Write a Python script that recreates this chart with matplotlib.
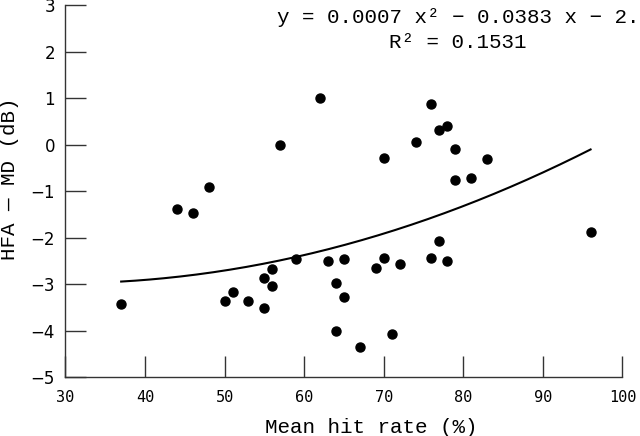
import numpy as np
from matplotlib import pyplot as plt

hit_rate = np.array([37, 44, 46, 48, 50, 51, 53, 55, 55, 56, 56, 59, 57, 62,
                     76, 77, 78, 74, 79, 70, 79, 81, 83, 96, 77, 63, 65, 70,
                     69, 72, 76, 78, 64, 65, 64, 71, 67])
hfa_md = np.array([-3.43, -1.39, -1.48, -0.91, -3.37, -3.18, -3.37, -3.51, -2.87,
                   -2.67, -3.05, -2.46, 0.0, 1.0, 0.87, 0.31, 0.39, 0.05, -0.09,
                   -0.28, -0.76, -0.72, -0.32, -1.89, -2.08, -2.50, -2.46, -2.45,
                   -2.66, -2.56, -2.45, -2.51, -2.97, -3.28, -4.0, -4.08, -4.36])

# trend line (a, b, c)
trend_coef = [0.00065, -0.0383, -2.42]

x_ticks = [30, 40, 50, 60, 70, 80, 90, 100]
y_ticks = [-5, -4, -3, -2, -1, 0, 1, 2, 3]
eq_text = 'y = 0.0007 x\u00b2 \u2212 0.0383 x \u2212 2.4'
r2_text = 'R\u00b2 = 0.1531'

mono = 'Liberation Mono'
fig = plt.figure(figsize=(6.4, 4.36), dpi=100)
ax = fig.add_axes([0.1023, 0.1353, 0.8702, 0.8532])

ax.plot(hit_rate, hfa_md, 'o', color='black', markersize=6.5, zorder=3)

xs = np.linspace(hit_rate.min(), hit_rate.max(), 200)
ax.plot(xs, np.polyval(trend_coef, xs), color='black', linewidth=1.5)

ax.set_xlim(30, 100)
ax.set_ylim(-5, 3)
ax.set_xticks(x_ticks)
ax.set_yticks(y_ticks)
ax.spines['top'].set_visible(False)
ax.spines['right'].set_visible(False)
for s in ['left', 'bottom']:
    ax.spines[s].set_color('#333333')
    ax.spines[s].set_linewidth(1.0)
ax.tick_params(direction='in', length=15, width=1.0, color='#333333')
ax.tick_params(axis='y', pad=7.5, labelsize=12)
ax.tick_params(axis='x', pad=9, labelsize=11)
for lab in ax.get_xticklabels():
    lab.set_family('DejaVu Sans Mono')

ax.set_xlabel('Mean hit rate (%)', family=mono, fontsize=15)
ax.xaxis.set_label_coords(0.549, -0.1505)
ax.xaxis.label.set_va('baseline')
ax.set_ylabel('HFA \u2014 MD (dB)', family=mono, fontsize=15)
ax.yaxis.set_label_coords(-0.0907, 0.532)
ax.yaxis.label.set_va('baseline')

ax.text(0.380, 0.952, eq_text, transform=ax.transAxes, family=mono,
        fontsize=15, ha='left', va='baseline', clip_on=False)
ax.text(0.705, 0.884, r2_text, transform=ax.transAxes, family=mono,
        fontsize=15, ha='center', va='baseline', clip_on=False)

fig.savefig('out.png', dpi=100)
